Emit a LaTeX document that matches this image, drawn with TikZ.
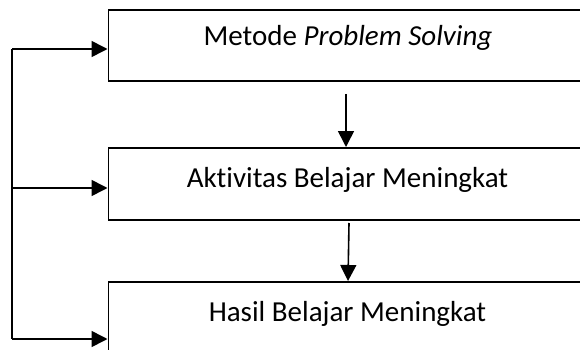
\documentclass[tikz,border=0pt]{standalone}
\usepackage{fontspec}
\setmainfont{Carlito}[Ligatures={NoCommon}]
\usetikzlibrary{arrows.meta,calc}
\begin{document}
\begin{tikzpicture}[x=1pt,y=1pt,
  box/.style={draw=black,line width=1.6pt,rectangle,inner sep=0pt,anchor=north west},
  lbl/.style={anchor=base,inner sep=0pt,font=\fontsize{29}{33}\selectfont},
  conn/.style={line width=1.6pt,-{Triangle[length=16pt,width=16pt]}},
  seg/.style={line width=1.6pt}]
\useasboundingbox (0,0) rectangle (580,-350);
\clip (0,0) rectangle (580,-350);
\node[box,minimum width=483pt,minimum height=71pt] (b1) at (107.5,-9) {};
\node[box,minimum width=483pt,minimum height=72pt] (b2) at (107.5,-147) {};
\node[box,minimum width=483pt,minimum height=100pt] (b3) at (107.5,-281) {};
\node[lbl] (t1) at (348,-46) {Metode \textit{Problem Solving}};
\node[lbl] (t2) at (347.5,-187) {Aktivitas Belajar Meningkat};
\node[lbl] (t3) at (347.5,-321) {Hasil Belajar Meningkat};
\coordinate (L1) at (12,-49);
\coordinate (L2) at (12,-188);
\coordinate (L3) at (12,-339);
\draw[seg] (L1) -- (L3);
\draw[conn] (L1) -- (L1 -| b1.west);
\draw[conn] (L2) -- (L2 -| b2.west);
\draw[conn] (L3) -- (L3 -| b3.west);
\coordinate (d1) at (346,-94);
\coordinate (d2) at (349,-223);
\draw[conn] (d1) -- (d1 |- b2.north);
\draw[conn] (d2) -- ($(d2 |- b3.north)+(-1,0)$);
\end{tikzpicture}
\end{document}
